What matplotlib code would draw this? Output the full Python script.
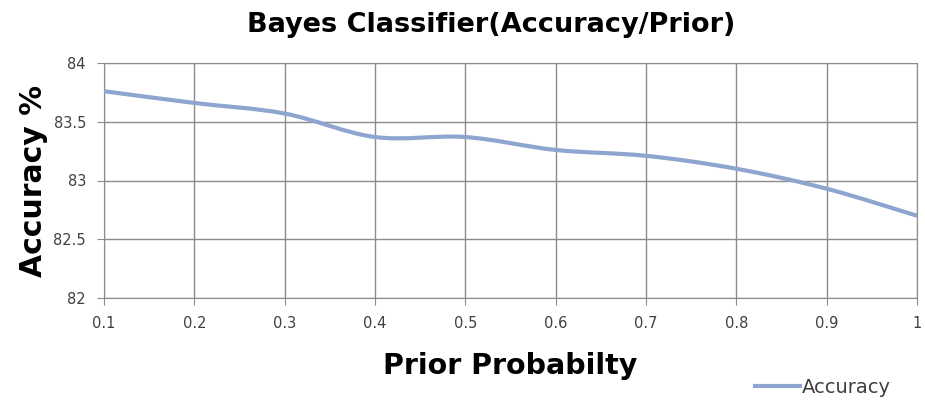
import matplotlib.pyplot as plt
from matplotlib.path import Path
from matplotlib.patches import PathPatch
from matplotlib.lines import Line2D

# Data
prior = [0.1, 0.2, 0.3, 0.4, 0.5, 0.6, 0.7, 0.8, 0.9, 1.0]
accuracy = [83.76, 83.66, 83.57, 83.37, 83.37, 83.26, 83.21, 83.10, 82.93, 82.70]
xticks = [0.1, 0.2, 0.3, 0.4, 0.5, 0.6, 0.7, 0.8, 0.9, 1.0]
xticklabels = ["0.1", "0.2", "0.3", "0.4", "0.5", "0.6", "0.7", "0.8", "0.9", "1"]
yticks = [82, 82.5, 83, 83.5, 84]
yticklabels = ["82", "82.5", "83", "83.5", "84"]

line_color = "#8EA5D0"
grid_color = "#8C8C8C"

fig = plt.figure(figsize=(9.25, 4), dpi=100)
ax = fig.add_axes([0.1124, 0.255, 0.8790, 0.5875])

# smoothed line like Excel: cubic Bezier segments through the data points
n = len(prior)
verts = [(prior[0], accuracy[0])]
codes = [Path.MOVETO]
for i in range(n - 1):
    x0, y0 = prior[max(i - 1, 0)], accuracy[max(i - 1, 0)]
    x1, y1 = prior[i], accuracy[i]
    x2, y2 = prior[i + 1], accuracy[i + 1]
    x3, y3 = prior[min(i + 2, n - 1)], accuracy[min(i + 2, n - 1)]
    c1 = (x1 + (x2 - x0) / 6, y1 + (y2 - y0) / 6)
    c2 = (x2 - (x3 - x1) / 6, y2 - (y3 - y1) / 6)
    verts += [c1, c2, (x2, y2)]
    codes += [Path.CURVE4] * 3
ax.add_patch(PathPatch(Path(verts, codes), facecolor="none", edgecolor=line_color,
                       linewidth=3, capstyle="butt", zorder=3))

ax.set_xlim(0.1, 1.0)
ax.set_ylim(82, 84)
ax.set_xticks(xticks)
ax.set_xticklabels(xticklabels)
ax.set_yticks(yticks)
ax.set_yticklabels(yticklabels)
ax.grid(True, color=grid_color, linewidth=1)
ax.set_axisbelow(True)
for s in ax.spines.values():
    s.set_color(grid_color)
ax.tick_params(colors=grid_color, labelcolor="#404040", labelsize=10.5, length=5, pad=8)

ax.set_title("Bayes Classifier(Accuracy/Prior)", fontsize=19.5, fontweight="heavy",
             pad=22, x=0.476)
ax.set_xlabel("Prior Probabilty", fontsize=20.5, fontweight="heavy", labelpad=15)
ax.set_ylabel("Accuracy %", fontsize=21.5, fontweight="heavy", labelpad=4)

handle = Line2D([], [], color=line_color, linewidth=3)
fig.legend([handle], ["Accuracy"], loc="center", bbox_to_anchor=(0.89, 0.032),
           frameon=False, fontsize=14, handlelength=2.3, handletextpad=0.1,
           labelcolor="#404040")

fig.savefig("out.png", dpi=100)
